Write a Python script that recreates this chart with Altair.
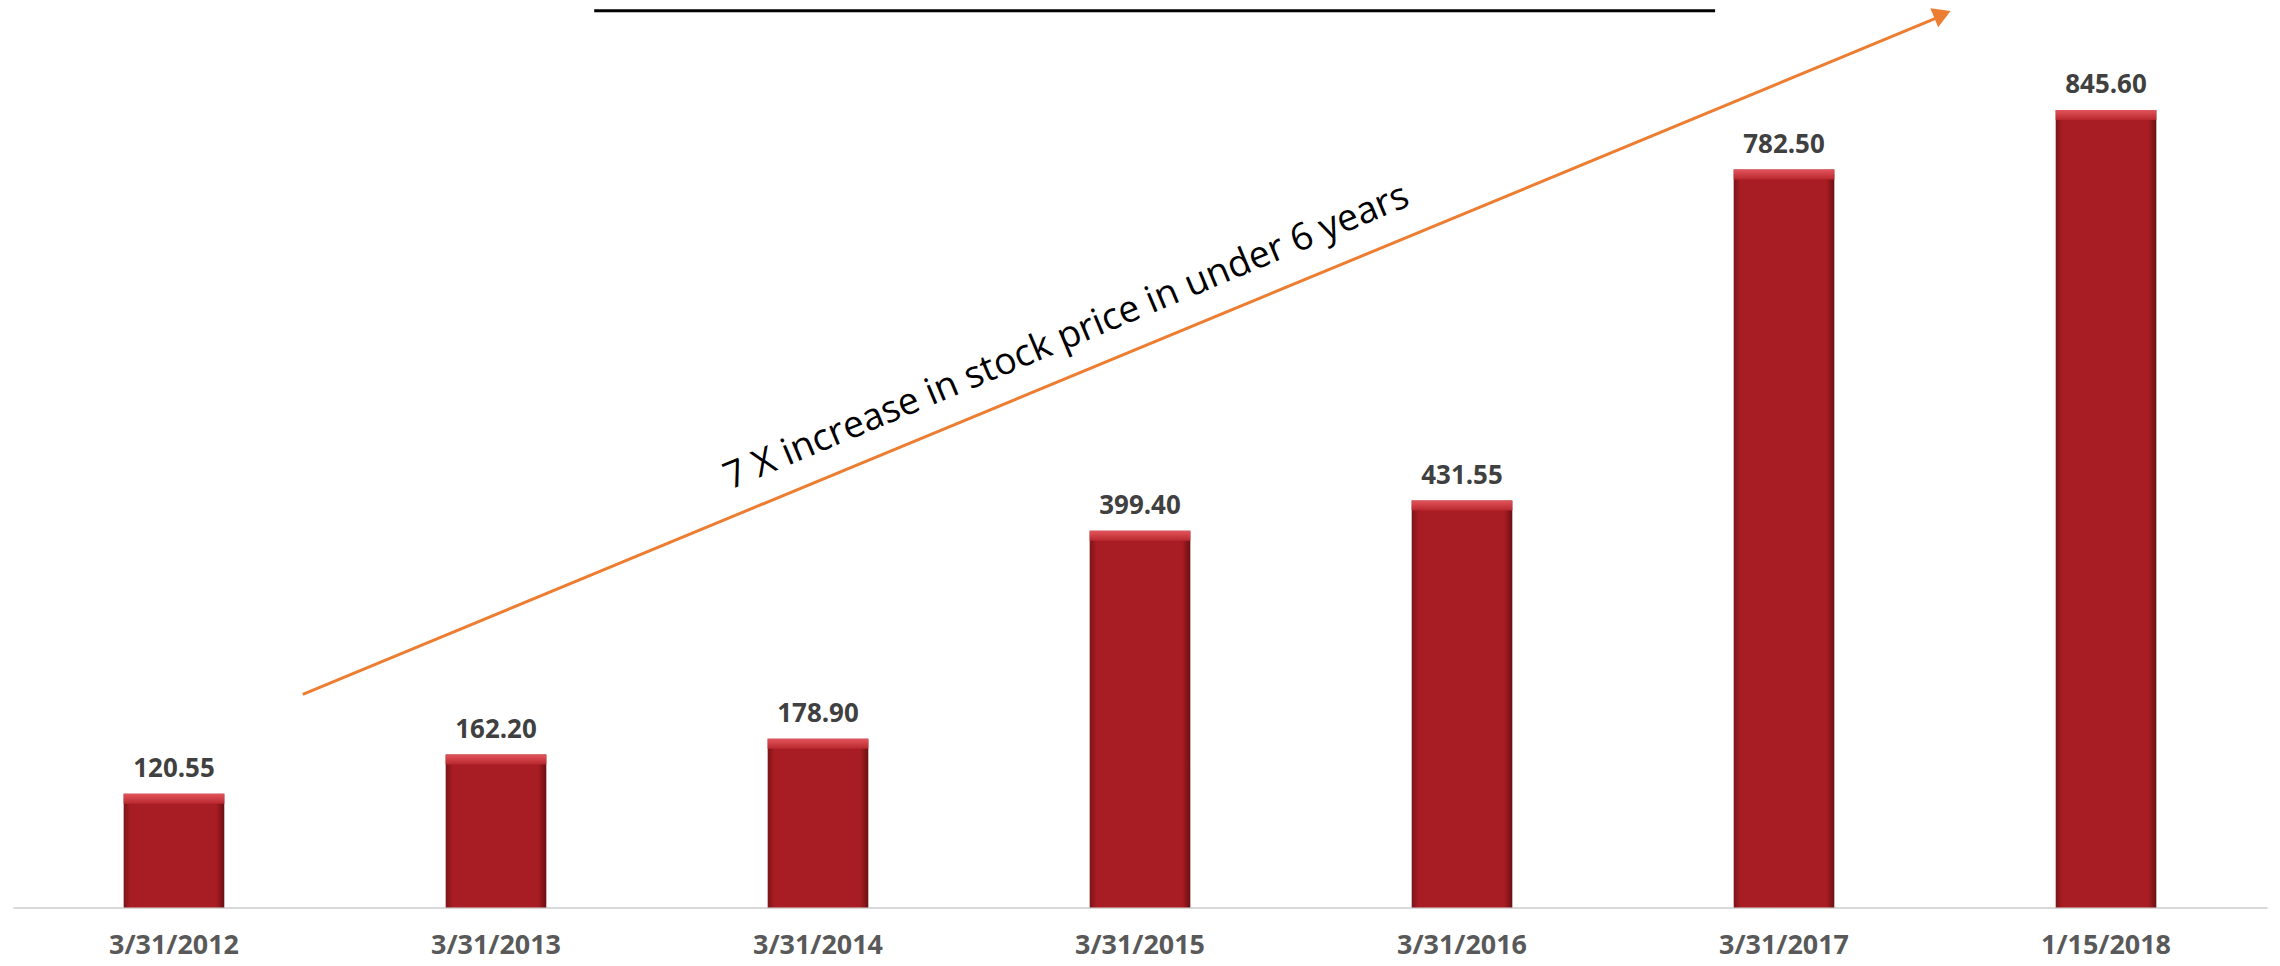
import altair as alt
import pandas as pd

# ---- data ----
dates = ["3/31/2012", "3/31/2013", "3/31/2014", "3/31/2015", "3/31/2016", "3/31/2017", "1/15/2018"]
prices = [120.55, 162.20, 178.90, 399.40, 431.55, 782.50, 845.60]

# annotation positions in data units (x: bar index, y: price)
arrow_x = [0.40, 5.480]
arrow_y = [226.0, 944.0]
head_x = [5.492]
head_y = [947.0]
note_text = ["7 X increase in stock price in under 6 years"]
note_x = [2.785]
note_y = [594.0]
underline_x = [1.305, 4.786]
underline_y = [950.8, 950.8]

Y_MAX = 952
X_DOM = [-0.5, 6.5]

df = pd.DataFrame({"date": dates, "price": prices})

yscale = alt.Scale(domain=[0, Y_MAX], nice=False, zero=True)
band_scale = alt.Scale(paddingInner=0.6875, paddingOuter=0.34375)
xband = alt.X(
    "date:N", sort=None, scale=band_scale,
    axis=alt.Axis(
        title=None, labelAngle=0, labelFont="Open Sans", labelFontWeight="bold",
        labelFontSize=27, labelColor="#595959", labelPadding=46,
        labelBaseline="alphabetic", ticks=False, tickSize=0,
        domainColor="#d9d9d9", domainWidth=2, grid=False, labelOverlap=False,
        labelFlush=False,
    ),
)
xband_noaxis = alt.X("date:N", sort=None, scale=band_scale, axis=None)
ynum = alt.Y("price:Q", scale=yscale, axis=None)

bar_fill = alt.LinearGradient(
    gradient="linear", x1=0, x2=1, y1=0, y2=0,
    stops=[
        alt.GradientStop(color="#7c1418", offset=0),
        alt.GradientStop(color="#a81d23", offset=0.07),
        alt.GradientStop(color="#a81d23", offset=0.92),
        alt.GradientStop(color="#6a0f13", offset=1),
    ],
)
bars = alt.Chart(df).mark_bar(color=bar_fill).encode(x=xband, y=ynum)

bevel_fill = alt.LinearGradient(
    gradient="linear", x1=0, x2=0, y1=0, y2=1,
    stops=[
        alt.GradientStop(color="#e2545b", offset=0),
        alt.GradientStop(color="#b8272e", offset=1),
    ],
)
bevel = alt.Chart(df).mark_tick(color=bevel_fill, thickness=10, size=101, yOffset=5, opacity=1).encode(
    x=xband_noaxis, y=ynum
)

labels = alt.Chart(df).mark_text(
    font="Open Sans", fontWeight="bold", fontSize=26, color="#404040",
    baseline="alphabetic", align="center", dy=-17,
).encode(x=xband_noaxis, y=ynum, text=alt.Text("price:Q", format=".2f"))

xq = lambda f: alt.X(f, type="quantitative", scale=alt.Scale(domain=X_DOM, nice=False, zero=False), axis=None)
yq = lambda f: alt.Y(f, type="quantitative", scale=yscale, axis=None)

arrow_df = pd.DataFrame({"x": [arrow_x[0]], "x2": [arrow_x[1]], "y": [arrow_y[0]], "y2": [arrow_y[1]]})
arrow = alt.Chart(arrow_df).mark_rule(color="#ed7d31", strokeWidth=3).encode(
    x=xq("x"), x2="x2", y=yq("y"), y2="y2"
)
head = alt.Chart(pd.DataFrame({"x": head_x, "y": head_y})).mark_point(
    shape="triangle-up", filled=True, color="#ed7d31", size=420, angle=67.5, opacity=1
).encode(x=xq("x"), y=yq("y"))

note = alt.Chart(pd.DataFrame({"x": note_x, "y": note_y, "t": note_text})).mark_text(
    font="Open Sans", fontSize=37.5, color="#000000", angle=337.3, align="center", baseline="alphabetic"
).encode(x=xq("x"), y=yq("y"), text="t:N")

ul_df = pd.DataFrame({"x": [underline_x[0]], "x2": [underline_x[1]], "y": [underline_y[0]]})
underline = alt.Chart(ul_df).mark_rule(color="#000000", strokeWidth=3).encode(
    x=xq("x"), x2="x2", y=yq("y")
)

chart = alt.layer(bars, bevel, labels, arrow, head, note, underline).resolve_scale(
    x="independent"
).resolve_axis(x="independent").properties(
    width=2262, height=901,
    background="#ffffff",
    autosize=alt.AutoSizeParams(type="none"),
    padding={"left": 5, "top": 0, "right": 5, "bottom": 56},
).configure_view(strokeWidth=0)

chart.save("out.html", embed_options={"renderer": "svg", "actions": False})
